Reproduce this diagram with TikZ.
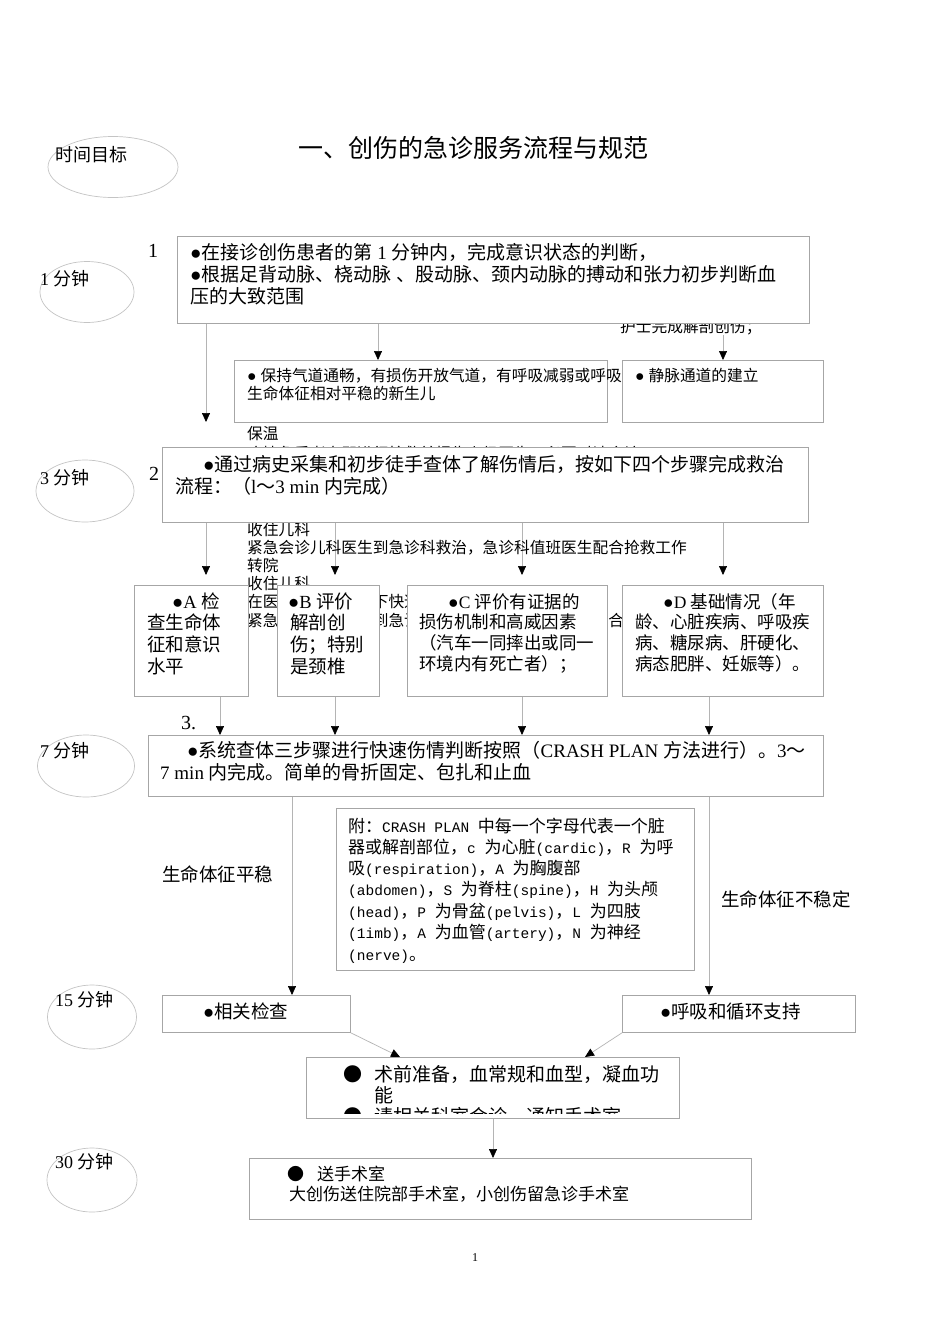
\documentclass[tikz,border=0pt]{standalone}
\usepackage{fontspec}
\setmainfont{Liberation Serif}
\newfontfamily\cjkfont{Noto Sans CJK SC}
\newfontfamily\monofont{Liberation Mono}
\usetikzlibrary{arrows.meta,shapes.geometric}
\pgfdeclarelayer{back}
\pgfdeclarelayer{bg}
\pgfsetlayers{back,bg,main}
\chardef\CJKcls=10
\newcount\cccnt
\def\setcjkrange#1#2{\cccnt=#1\relax\loop\XeTeXcharclass\cccnt=\CJKcls\relax\ifnum\cccnt<#2\relax\advance\cccnt by 1\relax\repeat}
\setcjkrange{"3000}{"303F}
\setcjkrange{"4E00}{"9FFF}
\setcjkrange{"FF00}{"FFEF}
\def\latinfont{\rmfamily}
\def\cjkswitch{\cjkfont}
\XeTeXinterchartokenstate=1
\XeTeXinterchartoks 0 \CJKcls = {\cjkswitch}
\XeTeXinterchartoks 4095 \CJKcls = {\cjkswitch}
\XeTeXinterchartoks \CJKcls 0 = {\latinfont}
\XeTeXinterchartoks \CJKcls 4095 = {\latinfont}
\definecolor{boxgray}{HTML}{A6A6A6}
\definecolor{linegray}{HTML}{B4B4B4}
\definecolor{ellgray}{HTML}{C4C4C4}
\tikzset{
  box/.style={draw=boxgray, fill=white, line width=0.8pt, inner sep=0pt, anchor=north west},
  ell/.style={draw=ellgray, line width=0.7pt, ellipse, inner sep=0pt},
  ln/.style={inner sep=0pt, anchor=base west, font=\fontsize{#1}{#1}\selectfont, yshift={-0.36*#1}},
  arr/.style={draw=linegray, line width=0.7pt, -{Triangle[black,width=8pt,length=9pt]}},
  crash/.style={inner sep=0pt, anchor=base west,
    font=\def\latinfont{\monofont\fontsize{14.5}{17}\selectfont}\def\cjkswitch{\cjkfont\fontsize{17}{17}\selectfont}\latinfont,
    yshift=-6}
}
\begin{document}
\begin{tikzpicture}[x=1pt,y=-1pt]
\useasboundingbox (0,0) rectangle (950,1344);
\begin{pgfonlayer}{back}
\fill[white] (0,0) rectangle (950,1344);
\end{pgfonlayer}

% title
\node[ln=25] (title) at (298,148) {一、创伤的急诊服务流程与规范};

% time ellipses
\node[ell, minimum width=130, minimum height=61] (e0) at (113,167) {};
\node[ln=18] (t0) at (55,155) {时间目标};
\node[ell, minimum width=94, minimum height=61] (e1) at (87,292) {};
\node[ln=18] (t1) at (40,279) {1 分钟};
\node[ell, minimum width=98, minimum height=62] (e3) at (85,491) {};
\node[ln=18] (t3) at (40,478) {3 分钟};
\node[ell, minimum width=97, minimum height=62] (e7) at (86,766) {};
\node[ln=18] (t7) at (40,751) {7 分钟};
\node[ell, minimum width=89, minimum height=64] (e15) at (92,1017) {};
\node[ln=18] (t15) at (55,1000) {15 分钟};
\node[ell, minimum width=90, minimum height=64] (e30) at (92,1180) {};
\node[ln=18] (t30) at (55,1162) {30 分钟};

% step numbers
\node[ln=20] (n1) at (148,250) {1};
\node[ln=20] (n2) at (149,473) {2};
\node[ln=20] (n3) at (181,722) {3.};

% boxes
\node[box, minimum width=632, minimum height=87] (b1) at (177,236) {};
\node[box, minimum width=373, minimum height=62] (bAir) at (234,360) {};
\node[box, minimum width=201, minimum height=62] (bIV) at (622,360) {};
\node[box, minimum width=646, minimum height=75] (b2) at (162,447) {};
\node[box, minimum width=114, minimum height=111] (bA) at (134,585) {};
\node[box, minimum width=102, minimum height=111] (bB) at (277,585) {};
\node[box, minimum width=200, minimum height=111] (bC) at (407,585) {};
\node[box, minimum width=201, minimum height=111] (bD) at (622,585) {};
\node[box, minimum width=675, minimum height=61] (b3) at (148,735) {};
\node[box, minimum width=358, minimum height=162] (bCR) at (336,808) {};
\node[box, minimum width=188, minimum height=37] (bChk) at (162,995) {};
\node[box, minimum width=233, minimum height=37] (bSup) at (622,995) {};
\node[box, minimum width=373, minimum height=61] (bPre) at (306,1057) {};
\node[box, minimum width=502, minimum height=61] (bOR) at (249,1158) {};

% x positions of connectors
\coordinate (xa) at (206,0);
\coordinate (xb) at (378,0);
\coordinate (xc) at (723,0);
\coordinate (xd) at (335,0);
\coordinate (xe) at (522,0);
\coordinate (xf) at (220,0);
\coordinate (xg) at (709,0);
\coordinate (xh) at (292,0);
\coordinate (xp) at (400,0);
\coordinate (xq) at (585,0);
\coordinate (xr) at (493,0);
\coordinate (c1) at (206,422);

\begin{pgfonlayer}{bg}
% connectors
\draw[arr] (b1.south -| xa) -- (c1);
\draw[arr] (b1.south -| xb) -- (bAir.north -| xb);
\draw[arr] (b1.south -| xc) -- (bIV.north -| xc);
\draw[arr, shorten >=10pt] (b2.south -| xa) -- (bA.north -| xa);
\draw[arr, shorten >=10pt] (b2.south -| xd) -- (bB.north -| xd);
\draw[arr, shorten >=10pt] (b2.south -| xe) -- (bC.north -| xe);
\draw[arr, shorten >=10pt] (b2.south -| xc) -- (bD.north -| xc);
\draw[arr] (bA.south -| xf) -- (b3.north -| xf);
\draw[arr] (bB.south -| xd) -- (b3.north -| xd);
\draw[arr] (bC.south -| xe) -- (b3.north -| xe);
\draw[arr] (bD.south -| xg) -- (b3.north -| xg);
\draw[arr] (b3.south -| xh) -- (bChk.north -| xh);
\draw[arr] (b3.south -| xg) -- (bSup.north -| xg);
\draw[arr] (bChk.south east) -- (bPre.north -| xp);
\draw[arr] (bSup.south west) -- (bPre.north -| xq);
\draw[arr] (bPre.south -| xr) -- (bOR.north -| xr);
% overflowing text partly hidden behind the boxes
\node[ln=15.7] (o1) at (247,434) {保温};
\node[ln=15.7] (o2) at (247,454) {病情危重者立即进行抢救并报告上级医生，必要时请会诊};
\node[ln=15.7] (o3) at (247,530) {收住儿科};
\node[ln=15.7] (o4) at (247,548) {紧急会诊儿科医生到急诊科救治，急诊科值班医生配合抢救工作};
\node[ln=15.7] (o5) at (247,566) {转院};
\node[ln=15.7] (o6) at (247,584) {收住儿科};
\node[ln=15.7] (o7) at (247,602) {在医务人员的陪同下快速转运};
\node[ln=15.7] (o8) at (247,621) {紧急会诊儿科医生到急诊科救治，急诊科值班医生配合抢救工作};
\node[ln=15.7, fill=white] (nurse) at (620,327) {护士完成解剖创伤；};
\end{pgfonlayer}

% box 1
\node[ln=19] (b1t1) at (190,253) {●在接诊创伤患者的第 1 分钟内，完成意识状态的判断，};
\node[ln=19] (b1t2) at (190,275) {●根据足背动脉、桡动脉 、股动脉、颈内动脉的搏动和张力初步判断血};
\node[ln=19] (b1t3) at (190,297) {压的大致范围};
% airway / iv
\node[ln=15.7] (at1) at (247,376) {● 保持气道通畅，有损伤开放气道，有呼吸减弱或呼吸};
\node[ln=15.7] (at2) at (247,394) {生命体征相对平稳的新生儿};
\node[ln=15.7] (ivt) at (635,376) {● 静脉通道的建立};
% box 2
\node[ln=19] (b2t1) at (203,465) {●通过病史采集和初步徒手查体了解伤情后，按如下四个步骤完成救治};
\node[ln=19] (b2t2) at (175,487) {流程：（l～3 min 内完成）};
% A
\node[ln=18.5] (at1a) at (172,602) {●A 检};
\node[ln=18.5] (at2a) at (147,623) {查生命体};
\node[ln=18.5] (at3a) at (147,645) {征和意识};
\node[ln=18.5] (at4a) at (147,667) {水平};
% B
\node[ln=18.5] (bt1) at (288,602) {●B 评价};
\node[ln=18.5] (bt2) at (290,623) {解剖创};
\node[ln=18.5] (bt3) at (290,645) {伤；特别};
\node[ln=18.5] (bt4) at (290,667) {是颈椎};
% C
\node[ln=17.5] (ct1) at (448,602) {●C 评价有证据的};
\node[ln=17.5] (ct2) at (419,622) {损伤机制和高威因素};
\node[ln=17.5] (ct3) at (419,643) {（汽车一同摔出或同一};
\node[ln=17.5] (ct4) at (419,664) {环境内有死亡者）；};
% D
\node[ln=17.5] (dt1) at (663,602) {●D 基础情况（年};
\node[ln=17.5] (dt2) at (635,622) {龄、心脏疾病、呼吸疾};
\node[ln=17.5] (dt3) at (635,643) {病、糖尿病、肝硬化、};
\node[ln=17.5] (dt4) at (635,664) {病态肥胖、妊娠等）。};
% box 3
\node[ln=19] (b3t1) at (187,751) {●系统查体三步骤进行快速伤情判断按照（CRASH PLAN 方法进行）。3～};
\node[ln=19] (b3t2) at (160,773) {7 min 内完成。简单的骨折固定、包扎和止血};
% branch labels
\node[ln=18.5] (lst) at (162,875) {生命体征平稳};
\node[ln=18.5] (lun) at (721,900) {生命体征不稳定};
% CRASH note
\node[crash] (cr1) at (348,826) {附：CRASH PLAN 中每一个字母代表一个脏};
\node[crash] (cr2) at (348,847) {器或解剖部位，c 为心脏(cardic)，R 为呼};
\node[crash] (cr3) at (348,868) {吸(respiration)，A 为胸腹部};
\node[crash] (cr4) at (348,889) {(abdomen)，S 为脊柱(spine)，H 为头颅};
\node[crash] (cr5) at (348,911) {(head)，P 为骨盆(pelvis)，L 为四肢};
\node[crash] (cr6) at (348,932) {(1imb)，A 为血管(artery)，N 为神经};
\node[crash] (cr7) at (348,954) {(nerve)。};
% 15 min boxes
\node[ln=18.5] (chkt) at (203,1012) {●相关检查};
\node[ln=18.5] (supt) at (660,1012) {●呼吸和循环支持};
% pre-op box
\node[ln=19] (pb1) at (343,1075) {\cjkfont●};
\node[ln=19] (pt1) at (374,1075) {术前准备，血常规和血型，凝血功};
\node[ln=19] (pt2) at (374,1096) {能};
\begin{scope}
\clip (306,1057) rectangle (679,1113);
\node[ln=19] (pb2) at (343,1117) {\cjkfont●};
\node[ln=19] (pt3) at (374,1117) {请相关科室会诊，通知手术室};
\end{scope}
% OR box
\node[ln=17] (ob1) at (287,1174) {\cjkfont●};
\node[ln=17] (ot1) at (317,1174) {送手术室};
\node[ln=17] (ot2) at (289,1194) {大创伤送住院部手术室，小创伤留急诊手术室};
% page number
\node[ln=12] (pg) at (472,1257) {1};
\end{tikzpicture}
\end{document}
